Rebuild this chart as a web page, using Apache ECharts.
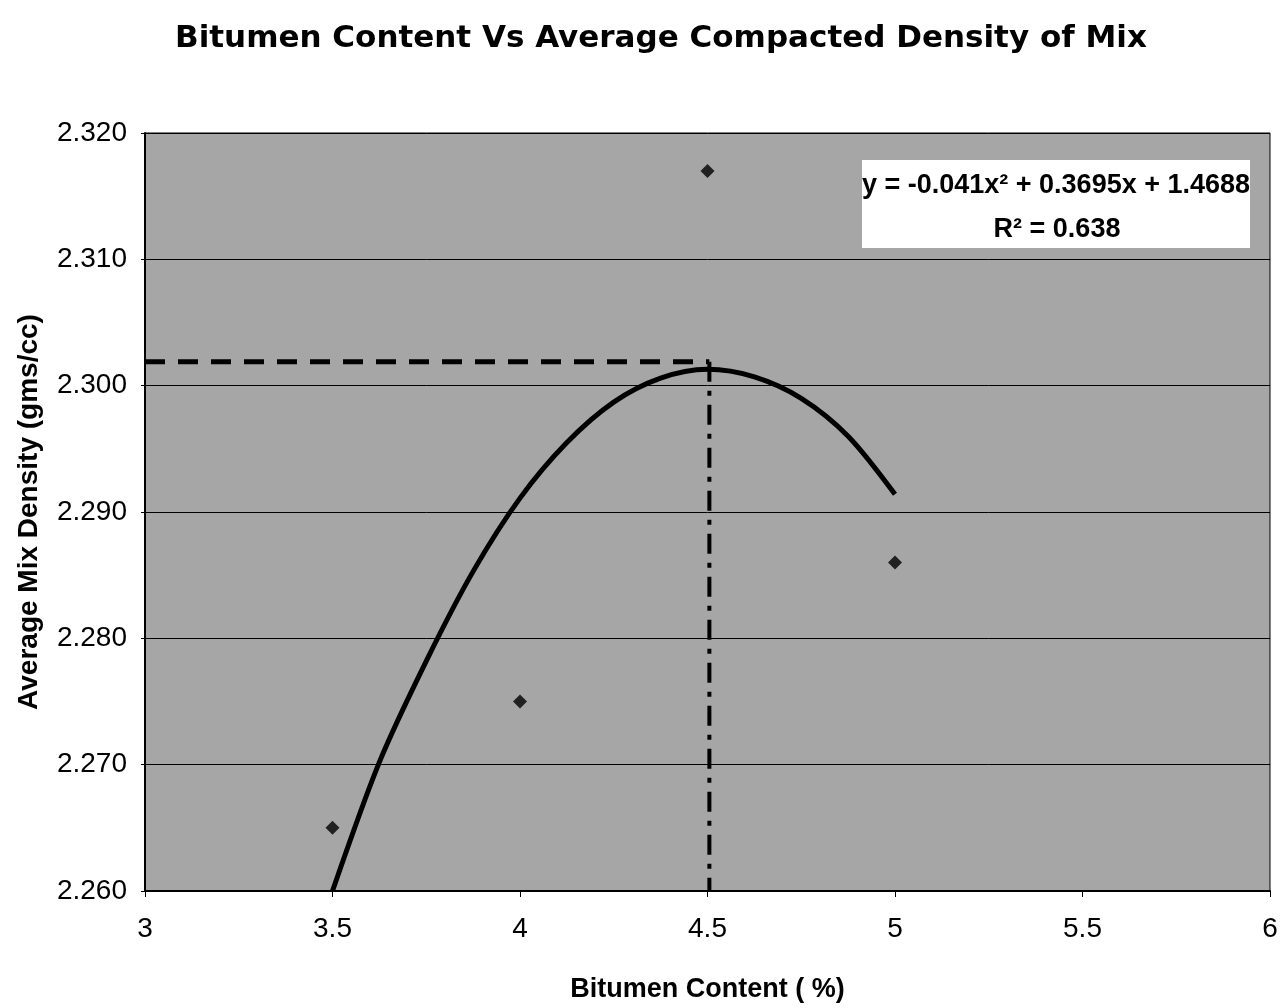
<!DOCTYPE html>
<html>
<head>
<meta charset="utf-8">
<title>Bitumen Content Vs Average Compacted Density of Mix</title>
<script src="https://cdn.jsdelivr.net/npm/echarts@6/dist/echarts.min.js"></script>
<style>
  html, body { margin: 0; padding: 0; background: #fff; }
  #chart { width: 1287px; height: 1008px; }
</style>
</head>
<body>
<div id="chart"></div>
<script>
// measured points (bitumen %, density)
const samples = [[3.5, 2.265], [4.0, 2.275], [4.5, 2.317], [5.0, 2.286]]
// polynomial trendline
const trendPoints = [
  [3.5, 2.2600], [3.625, 2.2702], [3.75, 2.2782], [3.875, 2.2853], [4.0, 2.2911],
  [4.125, 2.2955], [4.25, 2.2987], [4.375, 2.3006], [4.5, 2.3013], [4.625, 2.3007],
  [4.75, 2.2990], [4.875, 2.2960], [5.0, 2.2914]
]
// optimum guide lines
const optX = 4.505
const optY = 2.3019
const hGuide = [[3, optY], [optX, optY]]
const vGuide = [[optX, optY], [optX, 2.260]]

const equationText = 'y = -0.041x² + 0.3695x + 1.4688'
const r2Text = 'R² = 0.638'

const chart = echarts.init(document.getElementById('chart'))

const option = {
  backgroundColor: '#fff',
  animation: false,
  title: {
    text: 'Bitumen Content Vs Average Compacted Density of Mix',
    left: 170,
    top: 18,
    textStyle: {
      fontFamily: 'DejaVu Sans',
      fontWeight: 'bold',
      fontSize: 31,
      color: '#000'
    }
  },
  grid: {
    left: 145,
    right: 17,
    top: 133,
    bottom: 117,
    show: true,
    backgroundColor: '#a6a6a6',
    borderColor: '#000',
    borderWidth: 1
  },
  xAxis: {
    type: 'value',
    min: 3,
    max: 6,
    interval: 0.5,
    name: 'Bitumen Content ( %)',
    nameLocation: 'middle',
    nameGap: 85,
    nameTextStyle: { fontFamily: 'Liberation Sans', fontWeight: 'bold', fontSize: 27, color: '#000' },
    axisLine: { show: true, onZero: false, lineStyle: { color: '#000', width: 2 } },
    axisTick: { show: true, length: 6, lineStyle: { color: '#000' } },
    axisLabel: { fontFamily: 'Liberation Sans', fontSize: 28, color: '#000', margin: 24 },
    splitLine: { show: false }
  },
  yAxis: {
    type: 'value',
    min: 2.26,
    max: 2.32,
    interval: 0.01,
    name: 'Average Mix Density (gms/cc)',
    nameLocation: 'middle',
    nameGap: 102,
    nameTextStyle: { fontFamily: 'Liberation Sans', fontWeight: 'bold', fontSize: 28, color: '#000' },
    axisLine: { show: true, onZero: false, lineStyle: { color: '#000', width: 2 } },
    axisTick: { show: true, length: 4, lineStyle: { color: '#000' } },
    axisLabel: {
      fontFamily: 'Liberation Sans',
      fontSize: 28,
      color: '#000',
      margin: 18,
      formatter: v => v.toFixed(3)
    },
    splitLine: { show: true, lineStyle: { color: '#000', width: 1 } }
  },
  series: [
    {
      name: 'trend',
      type: 'line',
      data: trendPoints,
      smooth: 0.3,
      showSymbol: false,
      lineStyle: { color: '#000', width: 5 },
      z: 3
    },
    {
      name: 'guideH',
      type: 'line',
      data: hGuide,
      showSymbol: false,
      lineStyle: { color: '#000', width: 5, type: [20, 13] },
      z: 2
    },
    {
      name: 'guideV',
      type: 'line',
      data: vGuide,
      showSymbol: false,
      lineStyle: { color: '#000', width: 4, type: [20, 9, 5, 9] },
      z: 2
    },
    {
      name: 'samples',
      type: 'scatter',
      data: samples,
      symbol: 'diamond',
      symbolSize: 14,
      itemStyle: { color: '#000' },
      z: 4
    }
  ],
  graphic: [
    {
      type: 'rect',
      shape: { x: 862, y: 160, width: 388, height: 88 },
      style: { fill: '#fff' },
      z: 10
    },
    {
      type: 'text',
      x: 1056,
      y: 186,
      style: {
        text: equationText,
        fontFamily: 'Liberation Sans',
        fontWeight: 'bold',
        fontSize: 27,
        fill: '#000',
        align: 'center',
        verticalAlign: 'middle'
      },
      z: 11
    },
    {
      type: 'text',
      x: 1057,
      y: 230,
      style: {
        text: r2Text,
        fontFamily: 'Liberation Sans',
        fontWeight: 'bold',
        fontSize: 27,
        fill: '#000',
        align: 'center',
        verticalAlign: 'middle'
      },
      z: 11
    }
  ]
}

chart.setOption(option)
</script>
</body>
</html>
